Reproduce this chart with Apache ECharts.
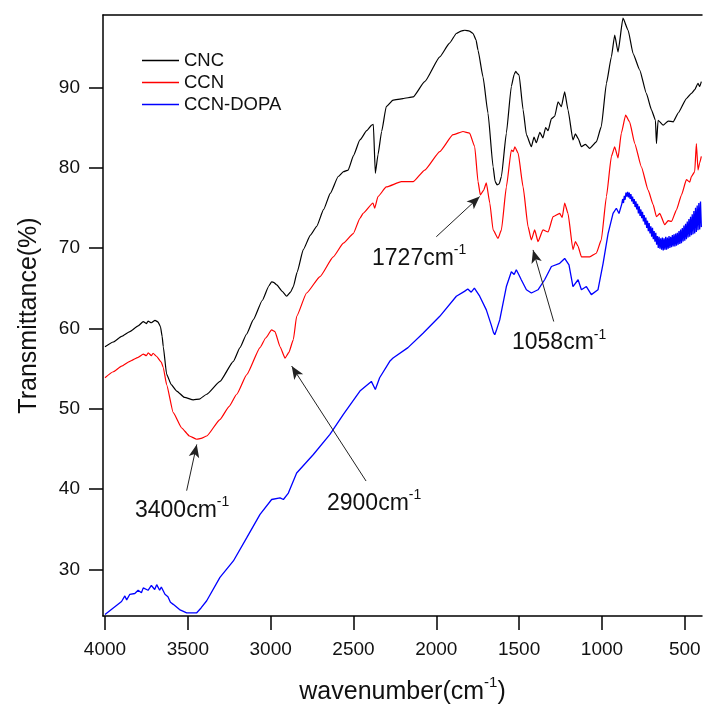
<!DOCTYPE html>
<html>
<head>
<meta charset="utf-8">
<script src="https://cdn.jsdelivr.net/npm/echarts@6/dist/echarts.min.js"></script>
<style>html,body{margin:0;padding:0;background:#fff}#c{width:703px;height:708px}</style>
</head>
<body>
<div id="c"></div>
<script>
// ---- data (wavenumber cm^-1, transmittance %) ----
var xTicks = [4000, 3500, 3000, 2500, 2000, 1500, 1000, 500];
var yTicks = [30, 40, 50, 60, 70, 80, 90];
var seriesNames = ['CNC', 'CCN', 'CCN-DOPA'];

var cncData = [
[4000,57.7],[3950,58.3],[3900,59.0],[3850,59.6],[3800,60.3],[3769,60.85],[3750,60.6],[3740,60.9],[3720,60.7],[3698,61.0],[3680,60.8],[3665,60.2],[3655,59.0],[3648,57.7],[3628,54.3],[3600,53.0],[3567,52.2],[3520,51.4],[3467,51.1],[3430,51.2],[3386,51.8],[3306,53.4],[3225,55.9],[3185,57.6],[3145,59.3],[3105,61.05],[3050,63.5],[3010,65.3],[2994,65.8],[2980,65.7],[2963,65.4],[2930,64.6],[2903,64.0],[2880,64.5],[2863,65.2],[2840,67.0],[2803,69.8],[2760,71.6],[2722,72.7],[2680,74.8],[2640,76.8],[2592,78.9],[2560,79.5],[2532,79.7],[2500,81.5],[2461,83.45],[2420,84.6],[2390,85.3],[2380,85.4],[2368,79.3],[2352,81.6],[2330,84.5],[2302,87.6],[2261,88.4],[2201,88.6],[2140,88.8],[2070,90.7],[1979,93.8],[1920,95.5],[1879,96.7],[1850,97.0],[1828,97.1],[1800,97.0],[1778,96.7],[1760,95.9],[1748,94.6],[1718,91.3],[1688,86.8],[1657,80.1],[1645,78.3],[1633,77.85],[1620,78.0],[1607,78.9],[1577,84.3],[1547,90.1],[1530,91.6],[1520,92.0],[1510,91.7],[1500,91.5],[1476,87.2],[1456,84.1],[1426,82.6],[1410,83.8],[1396,83.1],[1375,84.4],[1356,83.7],[1340,85.0],[1325,84.6],[1305,86.1],[1285,86.4],[1265,88.2],[1245,87.6],[1225,89.45],[1205,87.2],[1175,83.45],[1160,84.2],[1144,83.65],[1124,82.6],[1100,82.9],[1074,82.4],[1034,83.2],[1004,85.1],[973,90.5],[943,93.8],[923,96.5],[903,94.4],[873,98.6],[842,97.1],[812,94.2],[772,92.15],[732,89.25],[701,87.2],[677,85.9],[671,83.0],[661,85.9],[631,85.3],[600,85.8],[570,85.7],[540,86.8],[490,88.6],[460,89.25],[440,89.7],[420,90.5],[410,90.1],[400,90.7]
];

var ccnData = [
[4000,53.85],[3950,54.6],[3900,55.3],[3850,55.9],[3800,56.4],[3769,56.8],[3750,56.6],[3739,56.95],[3720,56.6],[3710,56.9],[3688,56.5],[3660,55.8],[3648,55.1],[3628,53.0],[3588,49.5],[3537,47.6],[3490,46.6],[3446,46.2],[3420,46.3],[3386,46.6],[3306,48.65],[3250,50.3],[3205,51.8],[3144,54.25],[3064,57.6],[3030,58.8],[2994,59.8],[2974,59.6],[2943,57.7],[2913,56.3],[2890,57.0],[2863,58.6],[2843,61.5],[2783,64.4],[2702,66.45],[2622,68.9],[2561,70.6],[2501,71.8],[2461,73.7],[2442,74.3],[2382,75.6],[2372,74.95],[2352,76.4],[2302,77.6],[2211,78.25],[2140,78.25],[2070,79.7],[1979,82.0],[1899,84.1],[1839,84.5],[1799,84.3],[1768,82.6],[1748,78.25],[1734,76.6],[1714,77.2],[1698,78.1],[1677,75.6],[1657,72.25],[1627,71.2],[1607,72.25],[1577,77.6],[1547,82.2],[1535,82.0],[1526,82.6],[1506,81.8],[1476,77.6],[1446,72.65],[1426,71.0],[1406,72.25],[1386,70.8],[1356,72.25],[1325,72.0],[1295,73.9],[1255,74.3],[1240,73.8],[1225,75.6],[1205,74.3],[1175,69.8],[1160,70.8],[1144,70.2],[1124,68.9],[1074,68.9],[1034,69.35],[1004,71.0],[973,76.4],[943,81.4],[923,82.6],[903,81.2],[883,84.3],[857,86.55],[833,85.7],[802,83.0],[762,80.1],[721,77.2],[691,75.4],[671,73.9],[651,74.3],[621,72.9],[600,73.4],[580,73.3],[550,74.75],[520,76.6],[490,78.5],[470,78.2],[460,78.9],[440,79.5],[430,83.0],[420,79.7],[410,80.6],[400,81.4]
];

var dopaData = [
[4000,24.4],[3950,25.2],[3900,26.0],[3880,26.7],[3869,26.2],[3850,26.9],[3820,27.0],[3800,27.4],[3780,27.1],[3769,27.7],[3740,27.4],[3720,28.0],[3700,27.5],[3688,28.1],[3670,27.4],[3660,27.8],[3638,26.9],[3620,26.6],[3605,25.9],[3588,25.65],[3550,25.0],[3507,24.6],[3446,24.6],[3420,25.2],[3386,26.1],[3306,29.0],[3225,31.05],[3144,33.95],[3064,36.85],[2994,38.7],[2943,38.9],[2923,38.7],[2893,39.5],[2843,42.0],[2742,44.3],[2642,46.8],[2561,49.3],[2461,52.2],[2392,53.4],[2368,52.4],[2342,53.85],[2281,55.9],[2261,56.3],[2171,57.6],[2080,59.4],[1979,61.5],[1879,64.0],[1830,64.6],[1810,64.9],[1789,64.5],[1770,65.0],[1738,64.0],[1698,62.3],[1668,60.4],[1655,59.5],[1647,59.2],[1635,59.9],[1617,61.05],[1577,65.2],[1547,67.05],[1530,66.7],[1517,67.3],[1500,66.6],[1487,66.05],[1456,64.8],[1426,64.4],[1386,64.8],[1346,66.05],[1305,67.7],[1255,68.1],[1225,68.7],[1199,67.9],[1175,65.2],[1144,66.05],[1124,64.8],[1094,65.2],[1064,64.2],[1024,64.8],[993,68.1],[963,71.8],[933,74.3],[913,74.95],[897,74.3],
[880,75.5],[875,76.1],[870,75.6],[865,76.5],[860,76.0],[855,76.9],[850,76.4],[845,77.0],[840,76.3],[835,76.9],[830,76.1],[825,76.7],[820,75.8],[815,76.4],[810,75.5],[805,76.1],[800,75.1],[795,75.8],[790,74.8],[785,75.5],[780,74.3],[775,75.2],[770,74.0],[765,74.8],[760,73.7],[755,74.5],[750,73.3],[745,74.1],[740,72.9],[735,73.8],[730,72.5],[725,73.4],[720,72.1],[715,73.1],[710,71.8],[705,72.7],[700,71.4],[695,72.5],[690,71.1],[685,72.1],[680,70.8],[675,71.9],[670,70.4],[665,71.5],[660,70.0],[655,71.4],[650,69.9],[645,71.2],[640,69.8],[635,71.3],[630,69.7],[625,71.2],[620,69.8],[615,71.4],[610,69.8],[605,71.3],[600,69.9],[595,71.5],[590,70.0],[585,71.4],[580,70.1],[575,71.6],[570,70.2],[565,71.7],[560,70.2],[555,71.8],[550,70.3],[545,71.9],[540,70.4],[535,72.1],[530,70.5],[525,72.3],[520,70.6],[515,72.5],[510,70.8],[505,72.8],[500,70.9],[495,73.0],[490,71.1],[485,73.3],[480,71.3],[475,73.6],[470,71.4],[465,73.9],[460,71.6],[455,74.2],[450,71.7],[445,74.6],[440,71.8],[435,75.0],[430,72.0],[425,75.3],[420,72.2],[415,75.6],[410,72.3],[405,75.8],[400,72.6]
];

// annotations: arrow [fromX, fromY, toX, toY], label anchored at left/baseline
var arrowLines = [
  [3507, 39.8, 3446, 45.55],
  [2424, 41.0, 2873, 55.3],
  [2000, 71.4, 1738, 76.4],
  [1291, 60.85, 1416, 69.76]
];
var labelTexts = ['3400cm', '2900cm', '1727cm', '1058cm'];
var labelAnchors = [[3819, 36.45], [2660, 37.43], [2388, 67.9], [1543, 57.35]];

var FONT = 'Liberation Sans, Arial, sans-serif';
var chart = echarts.init(document.getElementById('c'), null, {renderer: 'canvas'});

var markData = arrowLines.map(function (a) {
  return [{coord: [a[0], a[1]]}, {coord: [a[2], a[3]]}];
});
var plainNum = function (v) { return String(v); };

var option = {
  backgroundColor: '#fff',
  animation: false,
  grid: {left: 103, right: 1, top: 15, bottom: 92, containLabel: false, outerBoundsMode: 'none'},
  legend: {
    data: seriesNames, orient: 'vertical', left: 137, top: 46,
    icon: 'rect', itemWidth: 37, itemHeight: 1.5, itemGap: 3,
    textStyle: {fontSize: 18.5, color: '#111', fontFamily: FONT}
  },
  xAxis: [{
    type: 'value', inverse: true, min: 396, max: 4012,
    axisLine: {show: true, onZero: false, lineStyle: {color: '#000', width: 1.5}},
    axisTick: {show: true, inside: false, length: 14, lineStyle: {color: '#000', width: 1.5}, customValues: xTicks},
    axisLabel: {show: true, margin: 24, fontSize: 19, color: '#111', fontFamily: FONT, customValues: xTicks, formatter: plainNum},
    splitLine: {show: false},
    name: '{a|wavenumber(cm}{s|-1}{a|)}', nameLocation: 'middle', nameGap: 59,
    nameTextStyle: {
      rich: {
        a: {fontSize: 25, color: '#111', fontFamily: FONT, lineHeight: 30, verticalAlign: 'bottom'},
        s: {fontSize: 15, color: '#111', fontFamily: FONT, lineHeight: 30, verticalAlign: 'top'}
      }
    }
  }, {
    type: 'value', inverse: true, min: 396, max: 4012, position: 'top',
    axisLine: {show: true, onZero: false, lineStyle: {color: '#000', width: 1.5}},
    axisTick: {show: false}, axisLabel: {show: false}, splitLine: {show: false}
  }],
  yAxis: {
    type: 'value', min: 24.2, max: 99.0,
    axisLine: {show: true, onZero: false, lineStyle: {color: '#000', width: 1.5}},
    axisTick: {show: true, inside: false, length: 14, lineStyle: {color: '#000', width: 1.5}, customValues: yTicks},
    axisLabel: {show: true, margin: 23, fontSize: 19, color: '#111', fontFamily: FONT, customValues: yTicks, formatter: plainNum},
    splitLine: {show: false},
    name: 'Transmittance(%)', nameLocation: 'middle', nameGap: 61,
    nameTextStyle: {fontSize: 25, color: '#111', fontFamily: FONT}
  },
  series: [
    {name: 'CNC', type: 'line', data: cncData, symbol: 'none', smooth: 0.15, smoothMonotone: 'x',
     lineStyle: {color: '#000', width: 1.2}, itemStyle: {color: '#000'},
     markLine: {silent: true, symbol: ['none', 'arrow'], symbolSize: [8, 13], label: {show: false},
       lineStyle: {color: '#222', width: 1, type: 'solid'}, data: markData}},
    {name: 'CCN', type: 'line', data: ccnData, symbol: 'none', smooth: 0.15, smoothMonotone: 'x',
     lineStyle: {color: '#ff0000', width: 1.2}, itemStyle: {color: '#ff0000'}},
    {name: 'CCN-DOPA', type: 'line', data: dopaData, symbol: 'none',
     lineStyle: {color: '#0000ff', width: 1.3}, itemStyle: {color: '#0000ff'}}
  ]
};
chart.setOption(option);

var graphics = labelTexts.map(function (t, i) {
  var p = chart.convertToPixel({gridIndex: 0}, labelAnchors[i]);
  return {
    type: 'text', x: p[0], y: p[1] + 5, silent: true,
    style: {
      text: '{a|' + t + '}{s|-1}', align: 'left', verticalAlign: 'bottom',
      rich: {
        a: {fontSize: 23, fill: '#111', fontFamily: FONT, lineHeight: 27, verticalAlign: 'bottom'},
        s: {fontSize: 14, fill: '#111', fontFamily: FONT, lineHeight: 27, verticalAlign: 'top'}
      }
    }
  };
});
chart.setOption({graphic: graphics});
</script>
</body>
</html>
